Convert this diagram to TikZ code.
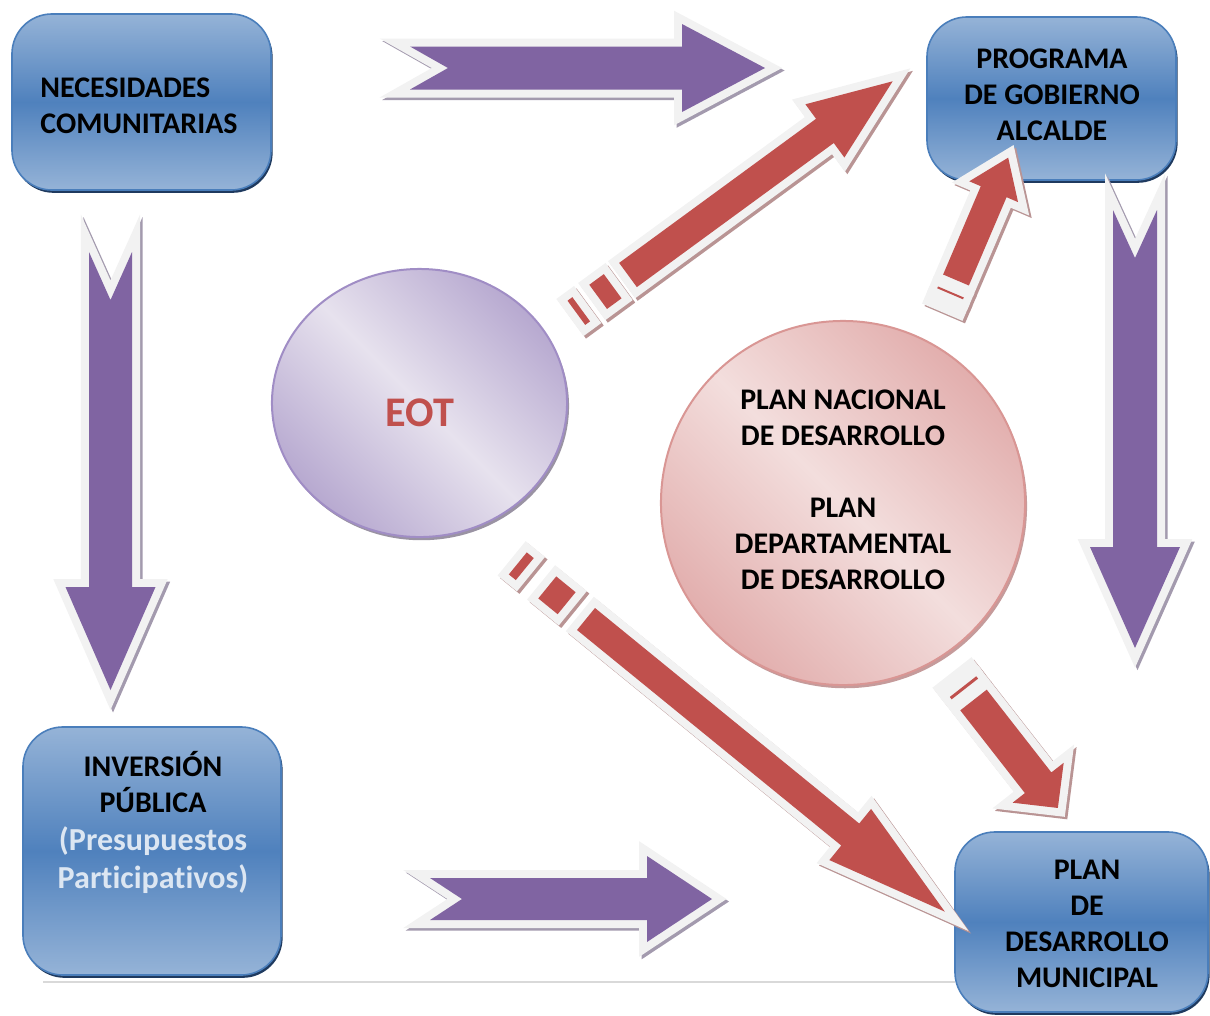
\documentclass[tikz,border=0pt]{standalone}
\usepackage{fontspec}
\setmainfont{Carlito}[Ligatures=NoCommon]
\usetikzlibrary{shapes.geometric,shadows}

\definecolor{morado}{HTML}{8064A2}
\definecolor{rojo}{HTML}{C0504D}
\definecolor{gris}{HTML}{F2F2F2}
\definecolor{sombraMorada}{HTML}{A39AAE}
\definecolor{sombraRoja}{HTML}{B99494}
\definecolor{azul}{HTML}{4F81BD}
\definecolor{azulClaro}{HTML}{95B3D7}
\definecolor{azulBorde}{HTML}{4A7EBB}
\definecolor{azulSombra}{HTML}{1F3A5F}
\definecolor{lavClaro}{HTML}{E7E2EE}
\definecolor{lavOscuro}{HTML}{B7A9D0}
\definecolor{lavBorde}{HTML}{A08DC5}
\definecolor{lavSombra}{HTML}{9A93A3}
\definecolor{rosaClaro}{HTML}{F3DEDD}
\definecolor{rosaOscuro}{HTML}{E2AEAD}
\definecolor{rosaBorde}{HTML}{D99694}
\definecolor{rosaSombra}{HTML}{C59B9B}
\definecolor{presup}{HTML}{DCE6F2}
\definecolor{lineaGris}{HTML}{D9D9D9}

\tikzset{
  contorno/.style={draw=gris, fill=gris, line width=0.4cm, line join=miter},
  sombraM/.style={draw=sombraMorada, fill=sombraMorada, line width=0.4cm, line join=miter},
  sombraR/.style={draw=sombraRoja, fill=sombraRoja, line width=0.4cm, line join=miter},
  caja/.style={rectangle, rounded corners=1cm, draw=azulBorde, line width=0.04cm,
    top color=azulClaro, bottom color=azulClaro, middle color=azul, inner sep=0,
    drop shadow={shadow xshift=0.04cm, shadow yshift=-0.07cm, fill=azulSombra, opacity=1}},
  texto/.style={font=\bfseries\fontsize{21.3}{25.6}\selectfont, align=center, inner sep=0}
}

% flecha de bloque morada con muesca en la cola
\newcommand{\flechamorada}[7]{% cola, angulo, largo, punta, semiancho, semipunta, muesca
  \def\silueta{(0,-#5) -- (#3-#4,-#5) -- (#3-#4,-#6) -- (#3,0) -- (#3-#4,#6) -- (#3-#4,#5) -- (0,#5) -- (#7,0) -- cycle}
  \path[sombraM, shift={(#1)}, shift={(2.5,2.5)}, rotate=#2] \silueta;
  \path[contorno, shift={(#1)}, rotate=#2] \silueta;
  \path[fill=morado, shift={(#1)}, rotate=#2] \silueta;
}

% flecha de bloque roja con franjas en la cola
\newcommand{\flecharoja}[7]{% cola, angulo, largo, punta, semiancho, semipunta, franjas
  \def\silueta{(0,-#5) -- (#3-#4,-#5) -- (#3-#4,-#6) -- (#3,0) -- (#3-#4,#6) -- (#3-#4,#5) -- (0,#5) -- cycle}
  \begin{scope}[shift={(#1)}, shift={(2.5,2.5)}, rotate=#2]
    \path[sombraR] \silueta;
    \foreach \ini/\fin/\col in {#7} \path[sombraR] (\ini,-#5) rectangle (\fin,#5);
  \end{scope}
  \begin{scope}[shift={(#1)}, rotate=#2]
    \path[contorno] \silueta;
    \foreach \ini/\fin/\col in {#7} \path[contorno] (\ini,-#5) rectangle (\fin,#5);
    \path[fill=rojo] \silueta;
    \foreach \ini/\fin/\col in {#7} \path[fill=\col] (\ini,-#5) rectangle (\fin,#5);
  \end{scope}
}

\begin{document}
\begin{tikzpicture}[x=0.025cm, y=-0.025cm,
    elipse/.style={ellipse, inner sep=0, draw=lavBorde, line width=0.05cm,
      top color=lavOscuro, bottom color=lavOscuro, middle color=lavClaro, shading angle=-45,
      drop shadow={shadow xshift=0.05cm, shadow yshift=-0.08cm, fill=lavSombra, opacity=1}},
    circulo/.style={circle, inner sep=0, draw=rosaBorde, line width=0.05cm,
      top color=rosaOscuro, bottom color=rosaOscuro, middle color=rosaClaro, shading angle=-45,
      drop shadow={shadow xshift=0.05cm, shadow yshift=-0.08cm, fill=rosaSombra, opacity=1}}]
  \useasboundingbox (0,0) rectangle (1210,1015);

  \draw[lineaGris, line width=0.05cm] (43,982) -- (955,982);

  % cajas
  \node[caja, minimum width=6.475cm, minimum height=4.4cm] (necesidades) at (141.5,102) {};
  \node[caja, minimum width=6.225cm, minimum height=4.075cm] (programa) at (1051.5,98.5) {};
  \node[caja, minimum width=6.45cm, minimum height=6.2cm] (inversion) at (152,851) {};
  \node[caja, minimum width=6.325cm, minimum height=4.5cm] (plan) at (1081.5,922) {};
  \node[elipse, minimum width=7.375cm, minimum height=6.7cm] (eot) at (419.5,403) {};
  \node[circulo, minimum size=9.1cm] (nacional) at (843,503) {};

  % textos
  \node[texto, align=left] (txtNecesidades) at (139,106) {NECESIDADES\\COMUNITARIAS};
  \node[texto] (txtPrograma) at (1052,95) {PROGRAMA\\DE GOBIERNO\\ALCALDE};
  \node[texto] (txtInversion) at (153,822) {INVERSIÓN\\PÚBLICA\\[0.05cm]
    \textcolor{presup}{\fontsize{22.8}{25.6}\selectfont(Presupuestos}\\[0.05cm]
    \textcolor{presup}{\fontsize{22.8}{25.6}\selectfont Participativos)}};
  \node[texto] (txtPlan) at (1087,924) {PLAN\\DE\\DESARROLLO\\MUNICIPAL};
  \node[texto] (txtNacional) at (843,490) {PLAN NACIONAL\\DE DESARROLLO\\[0.9cm]PLAN\\DEPARTAMENTAL\\DE DESARROLLO};
  \node[texto, text=rojo, font=\bfseries\fontsize{30}{36}\selectfont] (txtEot) at (420,413) {EOT};

  % flechas
  \coordinate (colaSup) at (410,68);
  \coordinate (colaInf) at (430,899);
  \coordinate (colaIzq) at (110.5,252);
  \coordinate (colaDer) at (1135,210);
  \coordinate (colaA) at (628,275);
  \coordinate (colaB) at (956,280);
  \coordinate (colaC) at (586,619);
  \coordinate (colaD) at (973.5,700);

  \flechamorada{colaSup}{0}{355}{83}{21.5}{44}{38}
  \flechamorada{colaInf}{0}{282}{65}{21}{43}{32}
  \flechamorada{colaIzq}{-90}{438}{103}{21.5}{45}{48}
  \flechamorada{colaDer}{-90}{438}{101}{22}{45}{48}

  \flecharoja{colaA}{36.2}{328}{84}{15}{33}{-37/-19/rojo, -64/-58/rojo}
  \flecharoja{colaB}{66.9}{133}{37}{14}{26.5}{-27/-24/gris, -15/-13/rojo}
  \flecharoja{colaC}{-39.2}{463}{122}{14.2}{33}{-50/-25/rojo, -88/-79/rojo}
  \flecharoja{colaD}{-52}{137}{32}{16.8}{32.4}{-27/-24/gris, -17/-14/rojo}
\end{tikzpicture}
\end{document}
